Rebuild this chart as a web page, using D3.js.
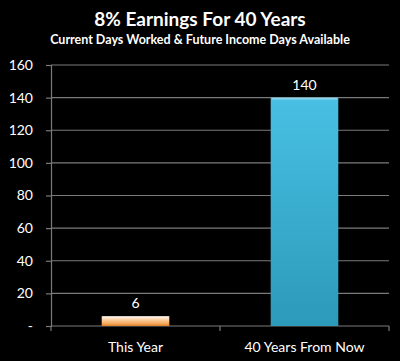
<!DOCTYPE html>
<html>
<head>
<meta charset="utf-8">
<script src="https://cdn.jsdelivr.net/npm/d3@7"></script>
<style>
  html, body { margin: 0; padding: 0; background: #000; }
  svg { display: block; }
</style>
</head>
<body>
<div id="chart"></div>
<script>
const categories = ['This Year', '40 Years From Now'];
const values = [6, 140];
const yTicks = [0, 20, 40, 60, 80, 100, 120, 140, 160];
const yTickLabels = ['-', '20', '40', '60', '80', '100', '120', '140', '160'];

const W = 400, H = 361;
const margin = { top: 65, right: 11, bottom: 35, left: 51 };
const width = W - margin.left - margin.right;
const height = H - margin.top - margin.bottom;
const font = 'Lato, "Open Sans", sans-serif';

const svg = d3.select('#chart').append('svg')
  .attr('width', W)
  .attr('height', H)
  .style('background', '#000');

const defs = svg.append('defs');

// orange bar gradient
const gOrange = defs.append('linearGradient')
  .attr('id', 'gOrange').attr('x1', 0).attr('y1', 0).attr('x2', 0).attr('y2', 1);
gOrange.append('stop').attr('offset', '0%').attr('stop-color', '#fff3e6');
gOrange.append('stop').attr('offset', '35%').attr('stop-color', '#fdd0a2');
gOrange.append('stop').attr('offset', '75%').attr('stop-color', '#f7a85a');
gOrange.append('stop').attr('offset', '100%').attr('stop-color', '#d97e2c');

// blue bar gradient
const gBlue = defs.append('linearGradient')
  .attr('id', 'gBlue').attr('x1', 0).attr('y1', 0).attr('x2', 0).attr('y2', 1);
gBlue.append('stop').attr('offset', '0%').attr('stop-color', '#48c0e3');
gBlue.append('stop').attr('offset', '100%').attr('stop-color', '#2c9ab9');

const fills = ['url(#gOrange)', 'url(#gBlue)'];

// Title
svg.append('text')
  .attr('x', W / 2).attr('y', 26)
  .attr('text-anchor', 'middle')
  .style('font-family', font)
  .style('font-weight', 'bold')
  .style('font-size', '19px')
  .style('fill', '#fff')
  .text('8% Earnings For 40 Years');

svg.append('text')
  .attr('x', W / 2).attr('y', 44)
  .attr('text-anchor', 'middle')
  .style('font-family', font)
  .style('font-weight', 'bold')
  .style('font-size', '12.5px')
  .style('fill', '#fff')
  .text('Current Days Worked & Future Income Days Available');

const g = svg.append('g')
  .attr('transform', `translate(${margin.left},${margin.top})`);

const x = d3.scaleBand()
  .domain(categories)
  .range([0, width])
  .paddingInner(0.6)
  .paddingOuter(0.3);

const y = d3.scaleLinear()
  .domain([0, 160])
  .range([height, 0]);

// gridlines
g.append('g')
  .selectAll('line')
  .data(yTicks)
  .join('line')
  .attr('x1', 0).attr('x2', width)
  .attr('y1', d => y(d)).attr('y2', d => y(d))
  .attr('stroke', '#7a7a7a')
  .attr('stroke-width', 1.2);

// y axis
const yAxis = g.append('g')
  .call(d3.axisLeft(y).tickValues(yTicks)
    .tickFormat((d, i) => yTickLabels[i])
    .tickSize(5).tickPadding(13));
yAxis.select('.domain').attr('stroke', '#7a7a7a').attr('stroke-width', 1.2);
yAxis.selectAll('.tick line').attr('stroke', '#7a7a7a').attr('stroke-width', 1.2);
yAxis.selectAll('text')
  .style('fill', '#fff')
  .style('font-family', font)
  .style('font-size', '14px');

// x axis
const xAxis = g.append('g')
  .attr('transform', `translate(0,${height})`)
  .call(d3.axisBottom(x).tickSize(0).tickPadding(16));
xAxis.select('.domain').remove();
xAxis.selectAll('text')
  .style('fill', '#fff')
  .style('font-family', font)
  .style('font-size', '14px');

// category separators
g.append('g')
  .selectAll('line')
  .data([0, 1, 2])
  .join('line')
  .attr('x1', d => d * width / 2).attr('x2', d => d * width / 2)
  .attr('y1', height).attr('y2', height + 5)
  .attr('stroke', '#7a7a7a')
  .attr('stroke-width', 1.2);

// bars
g.append('g')
  .selectAll('rect')
  .data(values)
  .join('rect')
  .attr('x', (d, i) => x(categories[i]))
  .attr('y', d => y(d))
  .attr('width', x.bandwidth())
  .attr('height', d => height - y(d))
  .attr('fill', (d, i) => fills[i]);

// bevel highlight on top of bars
g.append('g')
  .selectAll('rect')
  .data(values)
  .join('rect')
  .attr('x', (d, i) => x(categories[i]) + 1)
  .attr('y', d => y(d))
  .attr('width', x.bandwidth() - 2)
  .attr('height', 2)
  .attr('fill', '#ffffff')
  .attr('opacity', 0.35);

// value labels
g.append('g')
  .selectAll('text')
  .data(values)
  .join('text')
  .attr('x', (d, i) => x(categories[i]) + x.bandwidth() / 2)
  .attr('y', d => y(d) - 8)
  .attr('text-anchor', 'middle')
  .style('fill', '#fff')
  .style('font-family', font)
  .style('font-size', '14px')
  .text(d => d);
</script>
</body>
</html>
